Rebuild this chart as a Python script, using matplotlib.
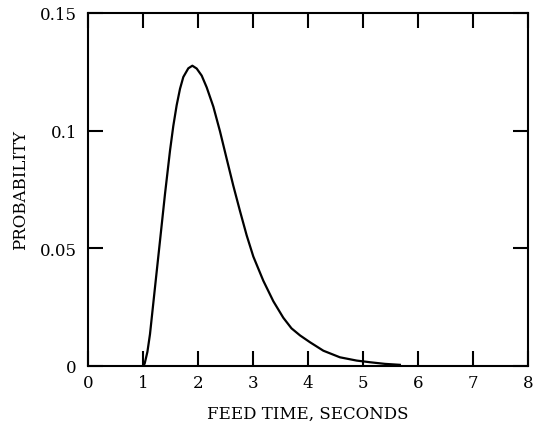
import matplotlib
matplotlib.use('Agg')
import matplotlib.pyplot as plt

# valores
feed_time = [1.0, 1.03, 1.08, 1.127, 1.218, 1.309, 1.4, 1.491, 1.551, 1.612, 1.673, 1.733,
             1.824, 1.897, 1.976, 2.067, 2.158, 2.279, 2.4, 2.522, 2.642, 2.764, 2.885,
             3.006, 3.188, 3.37, 3.551, 3.7, 3.855, 4.036, 4.279, 4.58, 4.885, 5.127, 5.4,
             5.67]
probability = [0.0, 0.001, 0.006, 0.0135, 0.0334, 0.0532, 0.0731, 0.0915, 0.1020, 0.1108,
               0.1178, 0.1228, 0.1265, 0.1276, 0.1264, 0.1234, 0.1184, 0.1102, 0.0997,
               0.0880, 0.0766, 0.0658, 0.0555, 0.0465, 0.0362, 0.0275, 0.0205, 0.0160,
               0.0130, 0.0101, 0.0065, 0.0037, 0.0023, 0.0016, 0.0009, 0.0005]
x_ticks = [0, 1, 2, 3, 4, 5, 6, 7, 8]
y_ticks = [0, 0.05, 0.1, 0.15]
y_tick_labels = ['0', '0.05', '0.1', '0.15']

plt.rcParams['font.family'] = ['DejaVu Serif']

fig = plt.figure(figsize=(5.33, 4.31), dpi=100)
ax = fig.add_axes([88/533, 1 - 367/431, 440/533, 353/431])

ax.plot(feed_time, probability, color='black', linewidth=1.6)

ax.set_xlim(0, 8)
ax.set_ylim(0, 0.15)
ax.set_xticks(x_ticks)
ax.set_xticklabels([str(t) for t in x_ticks])
ax.set_yticks(y_ticks)
ax.set_yticklabels(y_tick_labels)

ax.tick_params(direction='in', length=11, width=1.5, top=True, right=True,
               labelsize=12, colors='black')
ax.tick_params(axis='x', pad=6)
ax.tick_params(axis='y', pad=8)
for s in ax.spines.values():
    s.set_linewidth(1.5)

ax.set_xlabel('FEED TIME, SECONDS', fontsize=12, labelpad=10)
ax.set_ylabel('PROBABILITY', fontsize=12, labelpad=8)

fig.savefig('out.png', dpi=100)
